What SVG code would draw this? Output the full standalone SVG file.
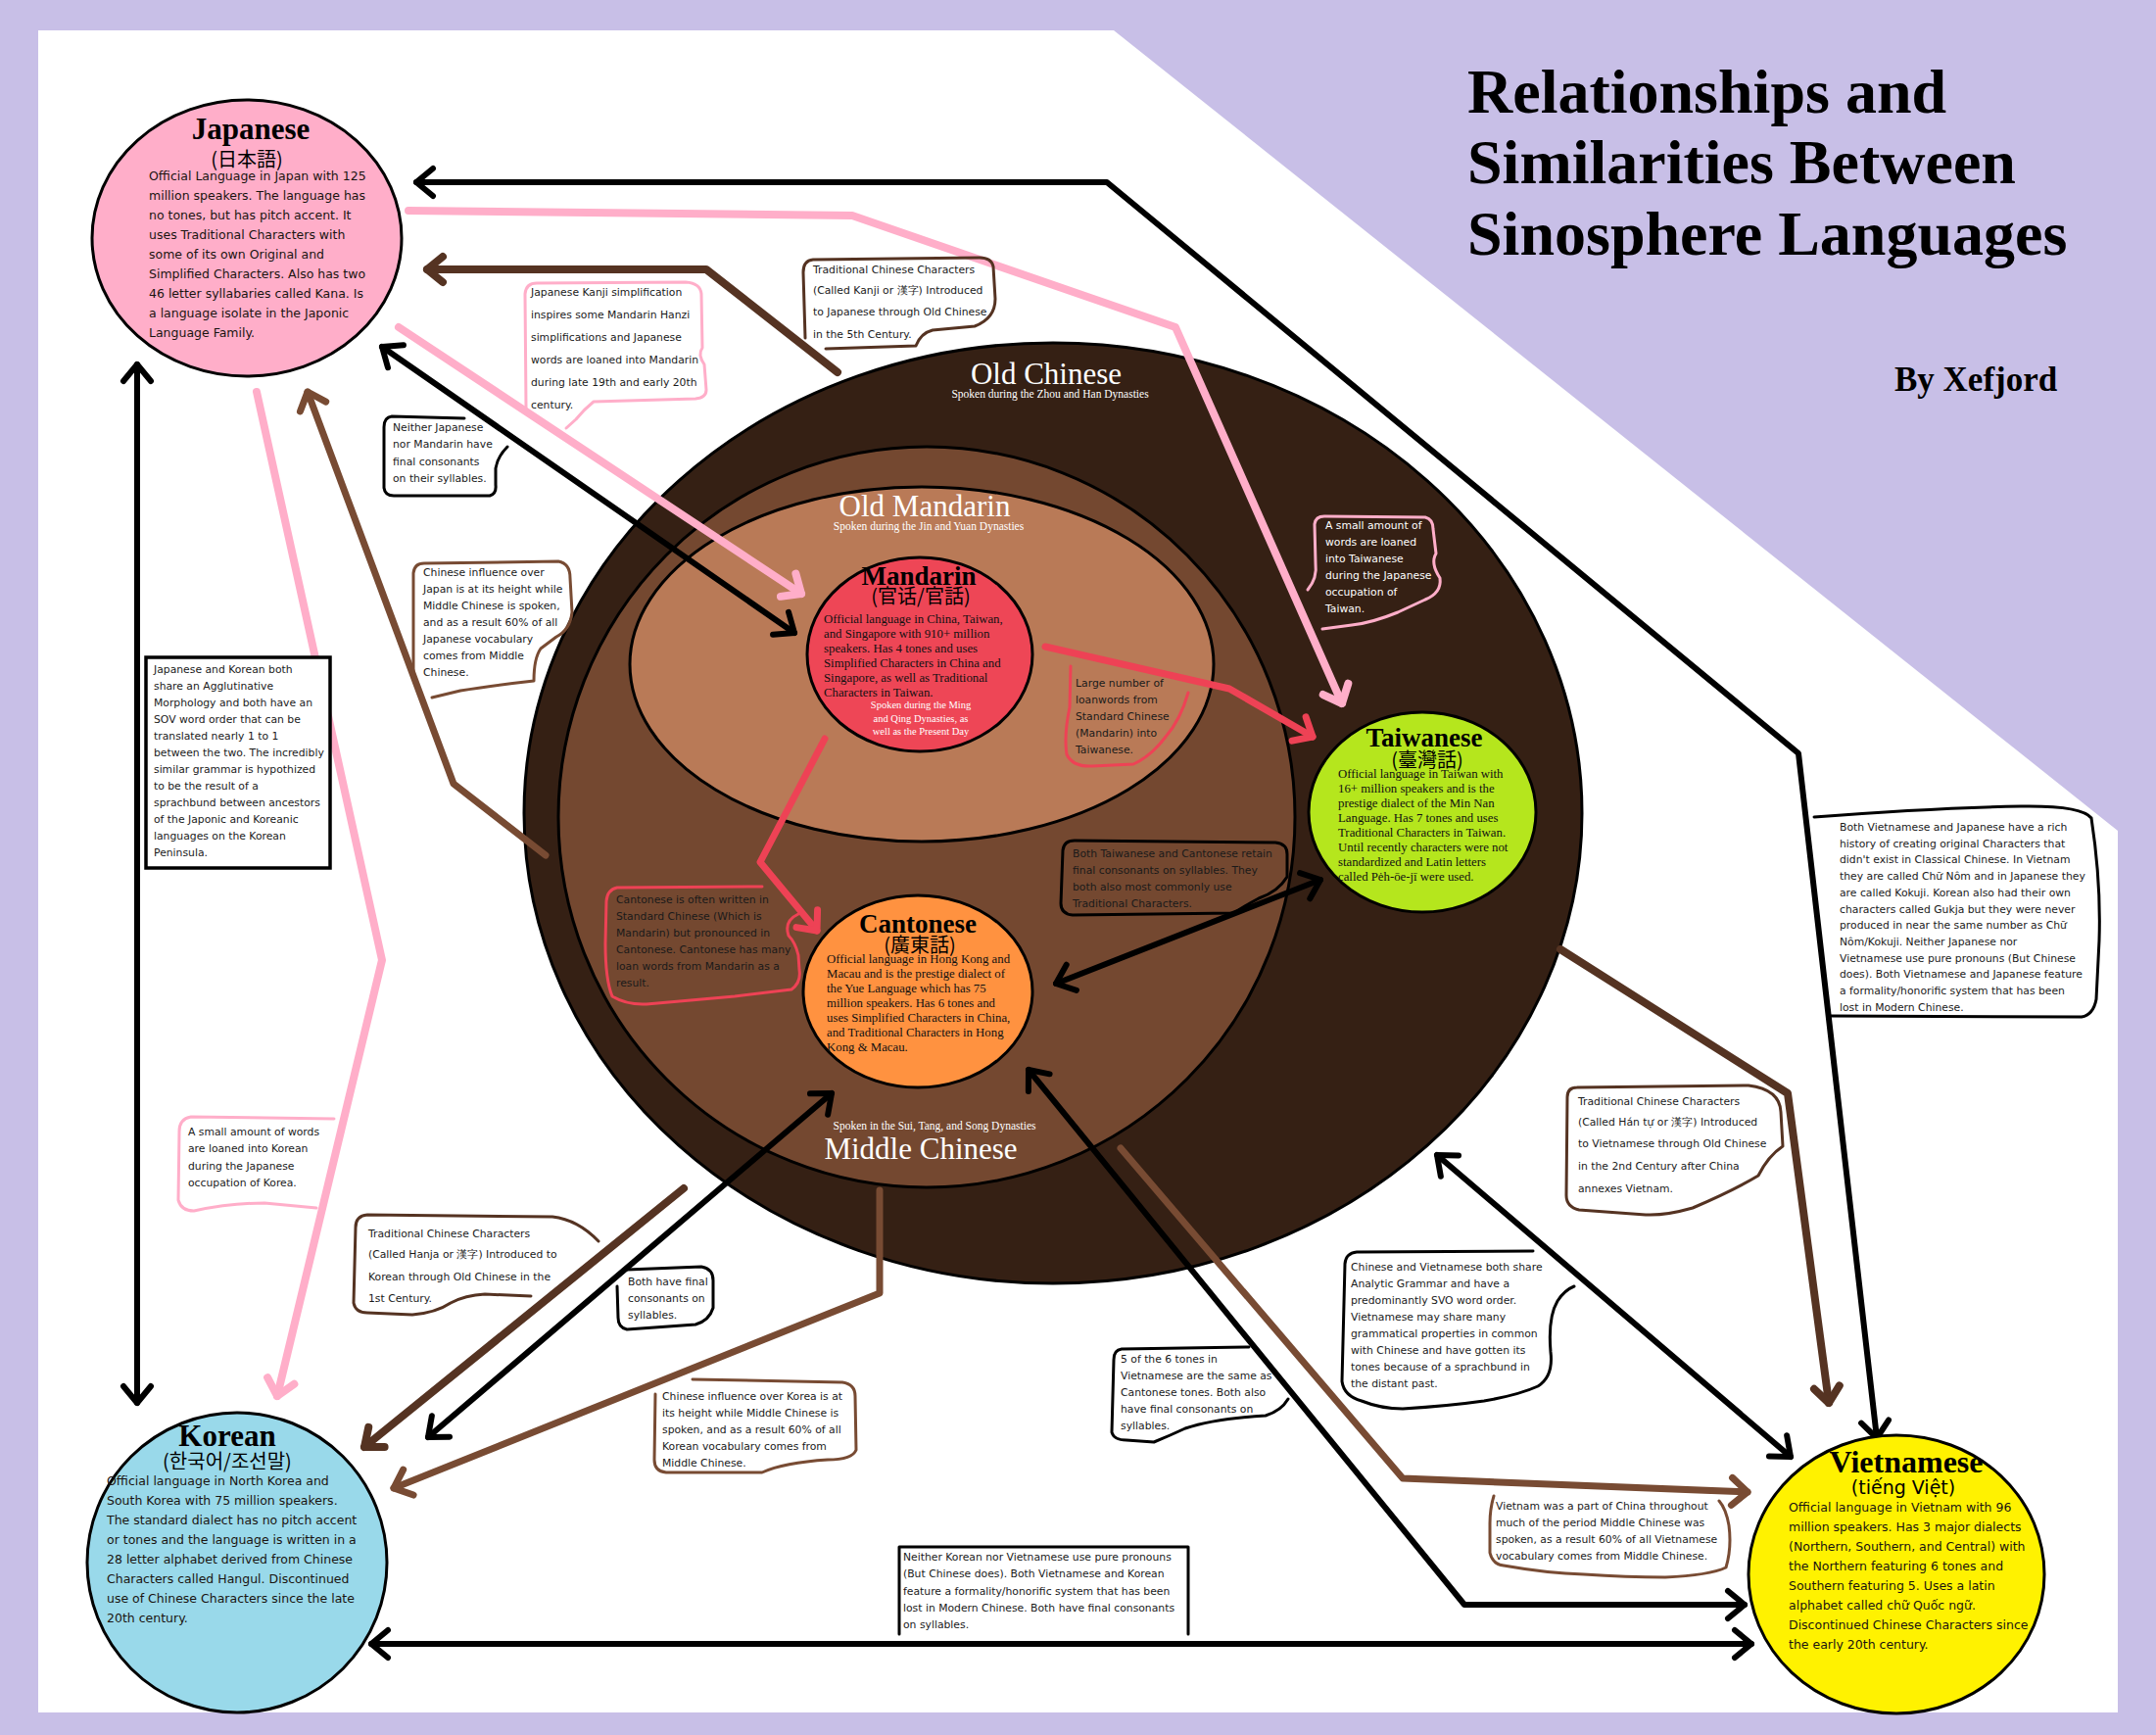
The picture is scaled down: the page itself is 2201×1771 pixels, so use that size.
<svg xmlns="http://www.w3.org/2000/svg" width="2201" height="1771" viewBox="0 0 2201 1771">
<defs>
<style>
.cjk{font-family:"Noto Sans CJK JP","Noto Sans CJK KR","Noto Sans CJK SC",sans-serif}
.co{font-family:"DejaVu Sans",sans-serif;font-size:10.8px;fill:#1a1a1a}
.cb{font-family:"DejaVu Sans",sans-serif;font-size:12.5px;fill:#1a1410}
.cs{font-family:"Liberation Serif",serif;font-size:12.8px;fill:#111}
.hd{font-family:"Liberation Serif",serif;font-weight:bold;fill:#000}
.lab{font-family:"Liberation Serif",serif;fill:#fff}
.node{stroke:#000;stroke-width:3}
.ln{fill:none;stroke-linecap:round;stroke-linejoin:round}
.k{stroke:#000;stroke-width:6}
.d{stroke:#553322;stroke-width:8}
.m{stroke:#784b33;stroke-width:7}
.p{stroke:#ffaec9;stroke-width:8}
.r{stroke:#ee4255;stroke-width:7}
.bx{fill:none;stroke-linecap:round;stroke-linejoin:round;stroke-width:3}
</style>
<marker id="ak" markerUnits="userSpaceOnUse" orient="auto-start-reverse" markerWidth="44" markerHeight="44" viewBox="-22 -22 44 44" refX="0" refY="0"><path d="M-17,-14 L0,0 L-17,14" fill="none" stroke="#000" stroke-width="6" stroke-linecap="round" stroke-linejoin="round"/></marker>
<marker id="ad" markerUnits="userSpaceOnUse" orient="auto-start-reverse" markerWidth="44" markerHeight="44" viewBox="-22 -22 44 44" refX="0" refY="0"><path d="M-16,-13 L0,0 L-16,13" fill="none" stroke="#553322" stroke-width="8" stroke-linecap="round" stroke-linejoin="round"/></marker>
<marker id="am" markerUnits="userSpaceOnUse" orient="auto-start-reverse" markerWidth="44" markerHeight="44" viewBox="-22 -22 44 44" refX="0" refY="0"><path d="M-16,-14 L0,0 L-16,14" fill="none" stroke="#784b33" stroke-width="7" stroke-linecap="round" stroke-linejoin="round"/></marker>
<marker id="ap" markerUnits="userSpaceOnUse" orient="auto-start-reverse" markerWidth="44" markerHeight="44" viewBox="-22 -22 44 44" refX="0" refY="0"><path d="M-16,-14 L0,0 L-16,14" fill="none" stroke="#ffaec9" stroke-width="8" stroke-linecap="round" stroke-linejoin="round"/></marker>
<marker id="ar" markerUnits="userSpaceOnUse" orient="auto-start-reverse" markerWidth="44" markerHeight="44" viewBox="-22 -22 44 44" refX="0" refY="0"><path d="M-16,-14 L0,0 L-16,14" fill="none" stroke="#ee4255" stroke-width="7" stroke-linecap="round" stroke-linejoin="round"/></marker>
</defs>

<rect x="0" y="0" width="2201" height="1771" fill="#c8bfe7"/>
<polygon points="39,31 1137,31 2162,848 2162,1748 39,1748" fill="#ffffff"/>

<g id="title">
<text class="hd" font-size="64" x="1498" y="115">Relationships and</text>
<text class="hd" font-size="64" x="1498" y="187">Similarities Between</text>
<text class="hd" font-size="64" x="1498" y="260">Sinosphere Languages</text>
<text class="hd" font-size="35" x="1934" y="399">By Xefjord</text>
</g>

<g id="old-chinese">
<ellipse cx="1075" cy="830" rx="540" ry="480" fill="#352014" stroke="#000" stroke-width="3"/>
<text class="lab" font-size="31" x="1068" y="392" text-anchor="middle">Old Chinese</text>
<text class="lab" font-size="11.5" x="1072" y="406" text-anchor="middle">Spoken during the Zhou and Han Dynasties</text>
</g>
<g id="middle-chinese">
<ellipse cx="946" cy="834" rx="376" ry="378" fill="#744830" stroke="#000" stroke-width="3"/>
<text class="lab" font-size="11.5" x="954" y="1153" text-anchor="middle">Spoken in the Sui, Tang, and Song Dynasties</text>
<text class="lab" font-size="31" x="940" y="1183" text-anchor="middle">Middle Chinese</text>
</g>
<g id="old-mandarin">
<ellipse cx="941" cy="678" rx="298" ry="181" fill="#b97a57" stroke="#000" stroke-width="3"/>
<text class="lab" font-size="31" x="944" y="527" text-anchor="middle">Old Mandarin</text>
<text class="lab" font-size="11.5" x="948" y="541" text-anchor="middle">Spoken during the Jin and Yuan Dynasties</text>
</g>

<g id="connectors">
<path class="ln k" d="M425,186 L1130,186 L1836,769 L1916,1468" marker-start="url(#ak)" marker-end="url(#ak)"/>
<path class="ln k" d="M140,372 L140,1432" marker-start="url(#ak)" marker-end="url(#ak)"/>
<path class="ln k" d="M379,1678 L1788,1678" marker-start="url(#ak)" marker-end="url(#ak)"/>
<path class="ln k" d="M1050,1092 L1495,1638 L1781,1638" marker-start="url(#ak)" marker-end="url(#ak)"/>
<path class="ln k" d="M390,354 L811,646" marker-start="url(#ak)" marker-end="url(#ak)"/>
<path class="ln k" d="M1078,1004 L1348,898" marker-start="url(#ak)" marker-end="url(#ak)"/>
<path class="ln k" d="M849,1116 L437,1467" marker-start="url(#ak)" marker-end="url(#ak)"/>
<path class="ln k" d="M1467,1179 L1828,1487" marker-start="url(#ak)" marker-end="url(#ak)"/>
<path class="ln d" d="M855,380 L721,275 L436,275" marker-end="url(#ad)"/>
<path class="ln d" d="M698,1213 L372,1477" marker-end="url(#ad)"/>
<path class="ln d" d="M1593,969 L1825,1116 L1867,1432" marker-end="url(#ad)"/>
<path class="ln m" d="M557,873 L463,800 L314,400" marker-end="url(#am)"/>
<path class="ln m" d="M898,1215 L898,1320 L402,1519" marker-end="url(#am)"/>
<path class="ln m" d="M1144,1172 L1432,1509 L1784,1523" marker-end="url(#am)"/>
<path class="ln p" d="M407,334 L818,606" marker-end="url(#ap)"/>
<path class="ln p" d="M417,215 L870,220 L1200,334 L1370,718" marker-end="url(#ap)"/>
<path class="ln p" d="M262,400 L390,980 L283,1425" marker-end="url(#ap)"/>
<path class="ln r" d="M1067,660 L1255,703 L1340,752" marker-end="url(#ar)"/>
<path class="ln r" d="M842,754 L776,880 L834,950" marker-end="url(#ar)"/>
</g>

<g id="japanese">
<ellipse class="node" cx="252" cy="243" rx="158" ry="141" fill="#ffaec9"/>
<text class="hd" font-size="31" x="256" y="142" text-anchor="middle">Japanese</text>
<text class="cjk" font-size="20" x="252" y="170" text-anchor="middle">(日本語)</text>
<text class="cb"><tspan x="152" y="184">Official Language in Japan with 125</tspan><tspan x="152" dy="20">million speakers. The language has</tspan><tspan x="152" dy="20">no tones, but has pitch accent. It</tspan><tspan x="152" dy="20">uses Traditional Characters with</tspan><tspan x="152" dy="20">some of its own Original and</tspan><tspan x="152" dy="20">Simplified Characters. Also has two</tspan><tspan x="152" dy="20">46 letter syllabaries called Kana. Is</tspan><tspan x="152" dy="20">a language isolate in the Japonic</tspan><tspan x="152" dy="20">Language Family.</tspan></text>
</g>

<g id="korean">
<circle class="node" cx="242" cy="1595" r="153" fill="#99d9ea"/>
<text class="hd" font-size="31" x="232" y="1476" text-anchor="middle">Korean</text>
<text class="cjk" font-size="20" x="232" y="1499" text-anchor="middle">(한국어/조선말)</text>
<text class="cb"><tspan x="109" y="1516">Official language in North Korea and</tspan><tspan x="109" dy="20">South Korea with 75 million speakers.</tspan><tspan x="109" dy="20">The standard dialect has no pitch accent</tspan><tspan x="109" dy="20">or tones and the language is written in a</tspan><tspan x="109" dy="20">28 letter alphabet derived from Chinese</tspan><tspan x="109" dy="20">Characters called Hangul. Discontinued</tspan><tspan x="109" dy="20">use of Chinese Characters since the late</tspan><tspan x="109" dy="20">20th century.</tspan></text>
</g>

<g id="vietnamese">
<ellipse class="node" cx="1936" cy="1607" rx="151" ry="142" fill="#fff200"/>
<text class="hd" font-size="32" x="1946" y="1503" text-anchor="middle">Vietnamese</text>
<text font-family="DejaVu Sans, sans-serif" font-size="19" x="1943" y="1525" text-anchor="middle">(tiếng Việt)</text>
<text class="cb"><tspan x="1826" y="1543">Official language in Vietnam with 96</tspan><tspan x="1826" dy="20">million speakers. Has 3 major dialects</tspan><tspan x="1826" dy="20">(Northern, Southern, and Central) with</tspan><tspan x="1826" dy="20">the Northern featuring 6 tones and</tspan><tspan x="1826" dy="20">Southern featuring 5. Uses a latin</tspan><tspan x="1826" dy="20">alphabet called chữ Quốc ngữ.</tspan><tspan x="1826" dy="20">Discontinued Chinese Characters since</tspan><tspan x="1826" dy="20">the early 20th century.</tspan></text>
</g>

<g id="mandarin">
<ellipse class="node" cx="939" cy="668" rx="115" ry="99" fill="#ee4656"/>
<text class="hd" font-size="27" x="938" y="597" text-anchor="middle">Mandarin</text>
<text class="cjk" font-size="20" x="940" y="616" text-anchor="middle">(官话/官話)</text>
<text class="cs"><tspan x="841" y="636">Official language in China, Taiwan,</tspan><tspan x="841" dy="15">and Singapore with 910+ million</tspan><tspan x="841" dy="15">speakers. Has 4 tones and uses</tspan><tspan x="841" dy="15">Simplified Characters in China and</tspan><tspan x="841" dy="15">Singapore, as well as Traditional</tspan><tspan x="841" dy="15">Characters in Taiwan.</tspan></text>
<text class="lab" font-size="10.5" text-anchor="middle"><tspan x="940" y="723">Spoken during the Ming</tspan><tspan x="940" dy="13.5">and Qing Dynasties, as</tspan><tspan x="940" dy="13.5">well as the Present Day</tspan></text>
</g>

<g id="taiwanese">
<ellipse class="node" cx="1452" cy="829" rx="116" ry="102" fill="#b5e61d"/>
<text class="hd" font-size="27" x="1454" y="762" text-anchor="middle">Taiwanese</text>
<text class="cjk" font-size="20" x="1457" y="783" text-anchor="middle">(臺灣話)</text>
<text class="cs"><tspan x="1366" y="794">Official language in Taiwan with</tspan><tspan x="1366" dy="15">16+ million speakers and is the</tspan><tspan x="1366" dy="15">prestige dialect of the Min Nan</tspan><tspan x="1366" dy="15">Language. Has 7 tones and uses</tspan><tspan x="1366" dy="15">Traditional Characters in Taiwan.</tspan><tspan x="1366" dy="15">Until recently characters were not</tspan><tspan x="1366" dy="15">standardized and Latin letters</tspan><tspan x="1366" dy="15">called Pėh-ōe-jī were used.</tspan></text>
</g>

<g id="cantonese">
<ellipse class="node" cx="937" cy="1012" rx="117" ry="98" fill="#ff9240"/>
<text class="hd" font-size="27" x="937" y="952" text-anchor="middle">Cantonese</text>
<text class="cjk" font-size="20" x="939" y="972" text-anchor="middle">(廣東話)</text>
<text class="cs"><tspan x="844" y="983">Official language in Hong Kong and</tspan><tspan x="844" dy="15">Macau and is the prestige dialect of</tspan><tspan x="844" dy="15">the Yue Language which has 75</tspan><tspan x="844" dy="15">million speakers. Has 6 tones and</tspan><tspan x="844" dy="15">uses Simplified Characters in China,</tspan><tspan x="844" dy="15">and Traditional Characters in Hong</tspan><tspan x="844" dy="15">Kong &amp; Macau.</tspan></text>
</g>

<g id="note-kanji-simplification">
<path class="bx" stroke="#ffaec9" d="M537,416 L536,300 Q537,289 548,289 L700,288 Q715,289 716,300 L717,355 Q712,362 719,372 L721,398 Q721,406 710,407 L606,410 Q596,418 588,428 L578,437"/>
<text class="co"><tspan x="542" y="302">Japanese Kanji simplification</tspan><tspan x="542" dy="23">inspires some Mandarin Hanzi</tspan><tspan x="542" dy="23">simplifications and Japanese</tspan><tspan x="542" dy="23">words are loaned into Mandarin</tspan><tspan x="542" dy="23">during late 19th and early 20th</tspan><tspan x="542" dy="23">century.</tspan></text>
</g>
<g id="note-kanji">
<path class="bx" stroke="#553322" d="M843,356 L935,353 Q940,340 952,337 L995,333 Q1016,325 1016,305 L1014,272 Q1012,263 1000,263 L830,265 Q820,266 820,278 L822,345"/>
<text class="co"><tspan x="830" y="279">Traditional Chinese Characters</tspan><tspan x="830" y="300">(Called Kanji or 漢字) Introduced</tspan><tspan x="830" y="322">to Japanese through Old Chinese</tspan><tspan x="830" y="345">in the 5th Century.</tspan></text>
</g>
<g id="note-jp-mandarin">
<path class="bx" stroke="#000" d="M474,427 L400,425 Q392,426 392,436 L392,498 Q393,506 402,506 L500,506 Q507,504 506,495 L506,478 Q508,466 518,456"/>
<text class="co"><tspan x="401" y="440">Neither Japanese</tspan><tspan x="401" dy="17.3">nor Mandarin have</tspan><tspan x="401" dy="17.3">final consonants</tspan><tspan x="401" dy="17.3">on their syllables.</tspan></text>
</g>
<g id="note-mc-japan">
<path class="bx" stroke="#784b33" d="M422,690 L422,585 Q423,575 433,575 L570,573 Q582,575 582,590 L584,625 Q582,643 568,650 L552,662 Q545,672 545,695 Q500,700 470,705 L441,712"/>
<text class="co"><tspan x="432" y="588">Chinese influence over</tspan><tspan x="432" dy="17">Japan is at its height while</tspan><tspan x="432" dy="17">Middle Chinese is spoken,</tspan><tspan x="432" dy="17">and as a result 60% of all</tspan><tspan x="432" dy="17">Japanese vocabulary</tspan><tspan x="432" dy="17">comes from Middle</tspan><tspan x="432" dy="17">Chinese.</tspan></text>
</g>
<g id="note-jp-kr">
<rect x="149" y="671" width="188" height="215" fill="#fff" stroke="#000" stroke-width="3.5"/>
<text class="co"><tspan x="157" y="687">Japanese and Korean both</tspan><tspan x="157" dy="17">share an Agglutinative</tspan><tspan x="157" dy="17">Morphology and both have an</tspan><tspan x="157" dy="17">SOV word order that can be</tspan><tspan x="157" dy="17">translated nearly 1 to 1</tspan><tspan x="157" dy="17">between the two. The incredibly</tspan><tspan x="157" dy="17">similar grammar is hypothized</tspan><tspan x="157" dy="17">to be the result of a</tspan><tspan x="157" dy="17">sprachbund between ancestors</tspan><tspan x="157" dy="17">of the Japonic and Koreanic</tspan><tspan x="157" dy="17">languages on the Korean</tspan><tspan x="157" dy="17">Peninsula.</tspan></text>
</g>
<g id="note-loan-tw">
<path class="bx" stroke="#ee4255" d="M1093,680 L1092,722 Q1086,750 1089,770 Q1095,783 1115,782 L1157,780 Q1175,772 1190,752 Q1205,735 1213,707"/>
<text class="co"><tspan x="1098" y="701">Large number of</tspan><tspan x="1098" dy="17">loanwords from</tspan><tspan x="1098" dy="17">Standard Chinese</tspan><tspan x="1098" dy="17">(Mandarin) into</tspan><tspan x="1098" dy="17">Taiwanese.</tspan></text>
</g>
<g id="note-jp-tw">
<path class="bx" stroke="#ffaec9" d="M1335,602 Q1345,590 1343,575 L1342,535 Q1343,527 1352,527 L1455,528 Q1463,530 1463,540 L1466,565 Q1460,575 1470,590 Q1472,605 1455,612 L1427,625 Q1400,636 1380,638 L1350,642"/>
<text class="co" style="fill:#fff"><tspan x="1353" y="540">A small amount of</tspan><tspan x="1353" dy="17">words are loaned</tspan><tspan x="1353" dy="17">into Taiwanese</tspan><tspan x="1353" dy="17">during the Japanese</tspan><tspan x="1353" dy="17">occupation of</tspan><tspan x="1353" dy="17">Taiwan.</tspan></text>
</g>
<g id="note-tw-ct">
<path class="bx" stroke="#000" d="M1260,932 L1095,934 Q1083,933 1083,922 L1085,868 Q1086,858 1097,858 L1302,860 Q1314,861 1314,872 L1314,895 Q1305,910 1285,917 Q1270,925 1260,932"/>
<text class="co"><tspan x="1095" y="875">Both Taiwanese and Cantonese retain</tspan><tspan x="1095" dy="17">final consonants on syllables. They</tspan><tspan x="1095" dy="17">both also most commonly use</tspan><tspan x="1095" dy="17">Traditional Characters.</tspan></text>
</g>
<g id="note-ct-written">
<path class="bx" stroke="#ee4255" d="M778,905 L630,906 Q620,908 619,920 L618,963 Q618,1000 625,1017 Q640,1026 660,1025 L750,1017 L808,1010 Q818,1003 816,990 L815,975 Q812,962 805,955 Q800,940 815,933"/>
<text class="co"><tspan x="629" y="922">Cantonese is often written in</tspan><tspan x="629" dy="17">Standard Chinese (Which is</tspan><tspan x="629" dy="17">Mandarin) but pronounced in</tspan><tspan x="629" dy="17">Cantonese. Cantonese has many</tspan><tspan x="629" dy="17">loan words from Mandarin as a</tspan><tspan x="629" dy="17">result.</tspan></text>
</g>
<g id="note-vn-jp">
<path class="bx" stroke="#000" d="M1852,834 Q1970,825 2063,823 Q2125,822 2135,835 Q2145,900 2143,960 L2140,1020 Q2137,1036 2125,1038 L1868,1037"/>
<text class="co"><tspan x="1878" y="848">Both Vietnamese and Japanese have a rich</tspan><tspan x="1878" dy="16.7">history of creating original Characters that</tspan><tspan x="1878" dy="16.7">didn't exist in Classical Chinese. In Vietnam</tspan><tspan x="1878" dy="16.7">they are called Chữ Nôm and in Japanese they</tspan><tspan x="1878" dy="16.7">are called Kokuji. Korean also had their own</tspan><tspan x="1878" dy="16.7">characters called Gukja but they were never</tspan><tspan x="1878" dy="16.7">produced in near the same number as Chữ</tspan><tspan x="1878" dy="16.7">Nôm/Kokuji. Neither Japanese nor</tspan><tspan x="1878" dy="16.7">Vietnamese use pure pronouns (But Chinese</tspan><tspan x="1878" dy="16.7">does). Both Vietnamese and Japanese feature</tspan><tspan x="1878" dy="16.7">a formality/honorific system that has been</tspan><tspan x="1878" dy="16.7">lost in Modern Chinese.</tspan></text>
</g>
<g id="note-jp-kr-loan">
<path class="bx" stroke="#ffaec9" d="M341,1142 L195,1140 Q183,1142 183,1155 L182,1225 Q185,1236 198,1236 Q235,1228 270,1228 L323,1233"/>
<text class="co"><tspan x="192" y="1159">A small amount of words</tspan><tspan x="192" dy="17.4">are loaned into Korean</tspan><tspan x="192" dy="17.4">during the Japanese</tspan><tspan x="192" dy="17.4">occupation of Korea.</tspan></text>
</g>
<g id="note-hanja">
<path class="bx" stroke="#553322" d="M611,1267 Q590,1245 564,1242 L375,1240 Q363,1241 363,1253 L361,1330 Q363,1340 375,1340 L421,1342 Q445,1340 460,1330 Q475,1322 495,1321 L542,1323"/>
<text class="co"><tspan x="376" y="1263">Traditional Chinese Characters</tspan><tspan x="376" y="1284">(Called Hanja or 漢字) Introduced to</tspan><tspan x="376" y="1307">Korean through Old Chinese in the</tspan><tspan x="376" y="1329">1st Century.</tspan></text>
</g>
<g id="note-ct-kr">
<path class="bx" stroke="#000" d="M640,1296 L716,1293 Q728,1295 728,1307 L728,1335 Q724,1348 710,1352 L640,1357 Q631,1355 631,1345 L630,1313"/>
<text class="co"><tspan x="641" y="1312">Both have final</tspan><tspan x="641" dy="17">consonants on</tspan><tspan x="641" dy="17">syllables.</tspan></text>
</g>
<g id="note-mc-korea">
<path class="bx" stroke="#784b33" d="M707,1408 L860,1411 Q873,1413 873,1425 L874,1480 Q870,1490 845,1490 Q800,1493 778,1503 L680,1503 Q668,1502 668,1490 L669,1423"/>
<text class="co"><tspan x="676" y="1429">Chinese influence over Korea is at</tspan><tspan x="676" dy="17">its height while Middle Chinese is</tspan><tspan x="676" dy="17">spoken, and as a result 60% of all</tspan><tspan x="676" dy="17">Korean vocabulary comes from</tspan><tspan x="676" dy="17">Middle Chinese.</tspan></text>
</g>
<g id="note-kr-vn">
<path class="bx" stroke="#000" stroke-width="3.5" d="M918,1668 L918,1579 L1213,1579 L1213,1668"/>
<text class="co"><tspan x="922" y="1593">Neither Korean nor Vietnamese use pure pronouns</tspan><tspan x="922" dy="17.3">(But Chinese does). Both Vietnamese and Korean</tspan><tspan x="922" dy="17.3">feature a formality/honorific system that has been</tspan><tspan x="922" dy="17.3">lost in Modern Chinese. Both have final consonants</tspan><tspan x="922" dy="17.3">on syllables.</tspan></text>
</g>
<g id="note-ct-vn">
<path class="bx" stroke="#000" d="M1275,1375 L1145,1377 Q1137,1378 1137,1388 L1135,1462 Q1137,1470 1150,1470 L1178,1472 Q1195,1465 1210,1458 Q1240,1448 1292,1445 Q1308,1440 1315,1428"/>
<text class="co"><tspan x="1144" y="1391">5 of the 6 tones in</tspan><tspan x="1144" dy="17">Vietnamese are the same as</tspan><tspan x="1144" dy="17">Cantonese tones. Both also</tspan><tspan x="1144" dy="17">have final consonants on</tspan><tspan x="1144" dy="17">syllables.</tspan></text>
</g>
<g id="note-zh-vn">
<path class="bx" stroke="#000" d="M1565,1277 L1385,1278 Q1374,1279 1373,1290 L1370,1410 Q1372,1425 1390,1430 Q1410,1438 1432,1438 Q1480,1435 1515,1430 Q1550,1424 1570,1415 Q1586,1405 1583,1380 Q1580,1345 1590,1328 Q1597,1317 1607,1313"/>
<text class="co"><tspan x="1379" y="1297">Chinese and Vietnamese both share</tspan><tspan x="1379" dy="17">Analytic Grammar and have a</tspan><tspan x="1379" dy="17">predominantly SVO word order.</tspan><tspan x="1379" dy="17">Vietnamese may share many</tspan><tspan x="1379" dy="17">grammatical properties in common</tspan><tspan x="1379" dy="17">with Chinese and have gotten its</tspan><tspan x="1379" dy="17">tones because of a sprachbund in</tspan><tspan x="1379" dy="17">the distant past.</tspan></text>
</g>
<g id="note-hantu">
<path class="bx" stroke="#553322" d="M1610,1110 L1785,1108 Q1817,1112 1818,1135 L1820,1170 Q1805,1180 1795,1200 Q1770,1215 1728,1233 Q1700,1241 1680,1240 L1612,1235 Q1599,1232 1599,1220 L1600,1120 Q1600,1110 1610,1110"/>
<text class="co"><tspan x="1611" y="1128">Traditional Chinese Characters</tspan><tspan x="1611" y="1149">(Called Hán tự or 漢字) Introduced</tspan><tspan x="1611" y="1171">to Vietnamese through Old Chinese</tspan><tspan x="1611" y="1194">in the 2nd Century after China</tspan><tspan x="1611" y="1217">annexes Vietnam.</tspan></text>
</g>
<g id="note-mc-vn">
<path class="bx" stroke="#784b33" d="M1525,1527 Q1521,1540 1521,1555 L1521,1585 Q1524,1597 1535,1598 Q1580,1606 1617,1607 Q1660,1610 1700,1610 Q1745,1608 1762,1600 Q1768,1580 1765,1557 Q1762,1540 1755,1532"/>
<text class="co"><tspan x="1527" y="1541">Vietnam was a part of China throughout</tspan><tspan x="1527" dy="17">much of the period Middle Chinese was</tspan><tspan x="1527" dy="17">spoken, as a result 60% of all Vietnamese</tspan><tspan x="1527" dy="17">vocabulary comes from Middle Chinese.</tspan></text>
</g>
</svg>
